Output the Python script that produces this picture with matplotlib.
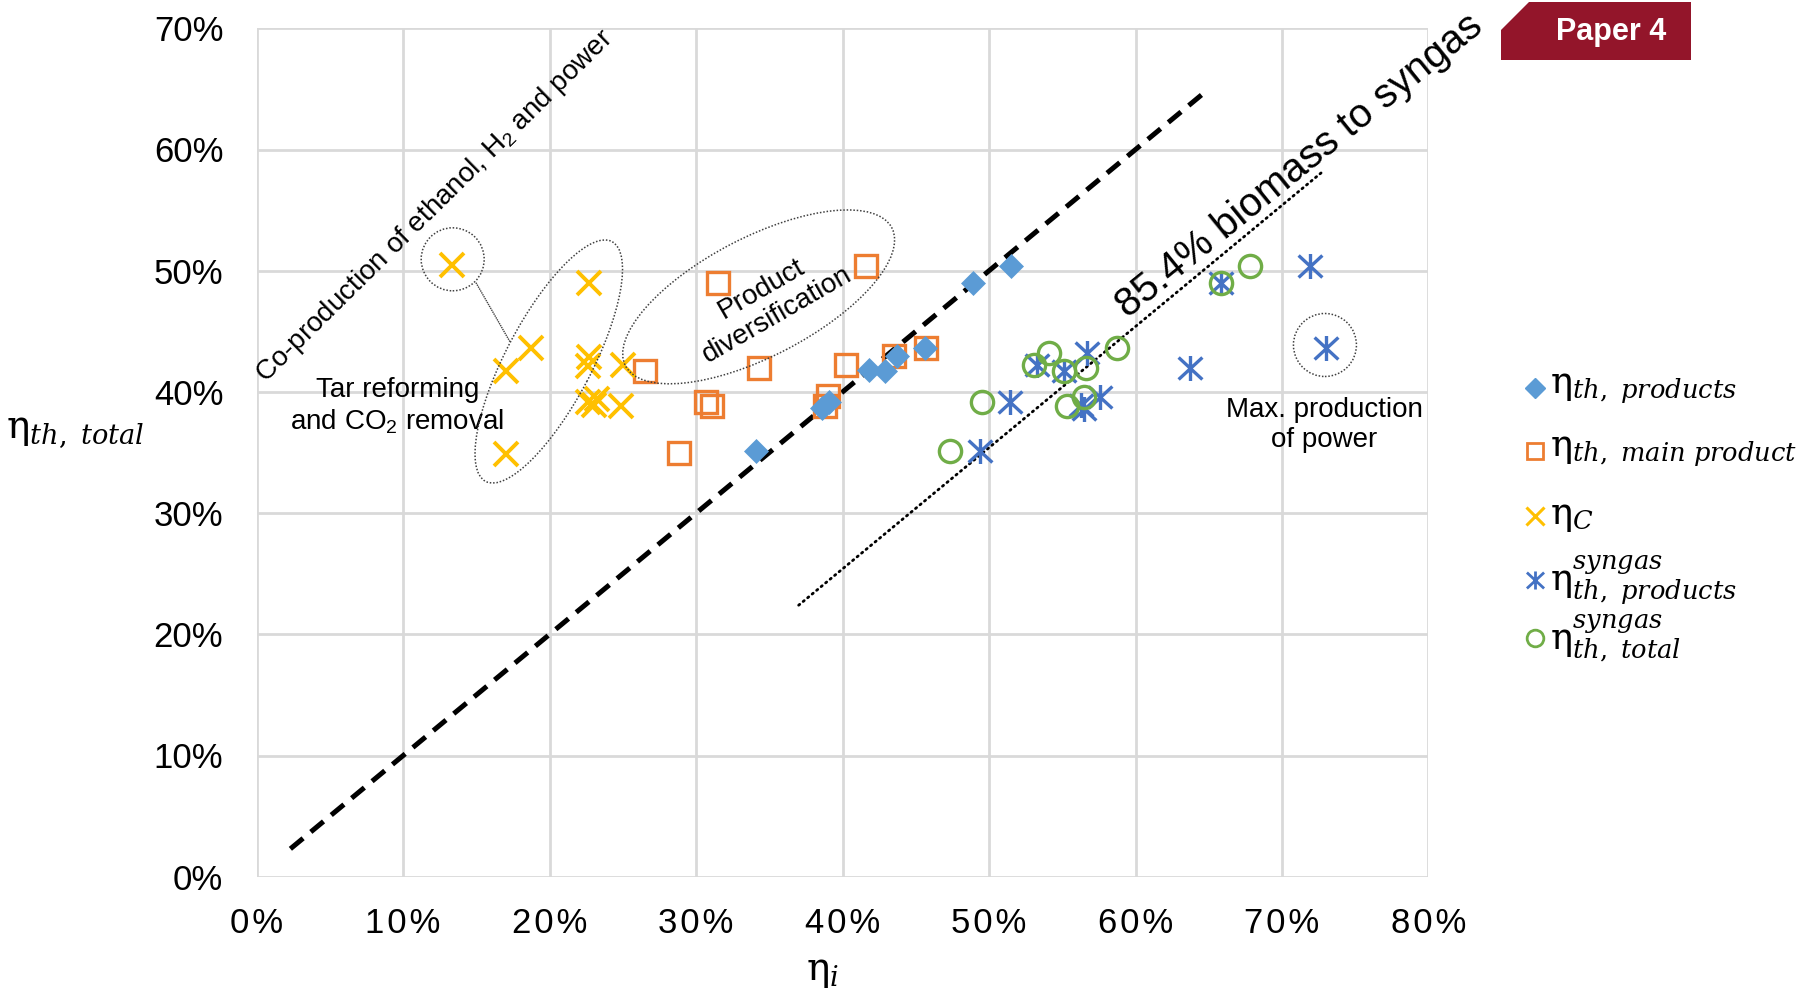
import numpy as np
import matplotlib
matplotlib.use("Agg")
import matplotlib.pyplot as plt
from matplotlib.patches import Ellipse, Polygon
from matplotlib.lines import Line2D
from matplotlib.path import Path
from matplotlib.transforms import IdentityTransform

plt.rcParams['font.family'] = ['Liberation Sans', 'DejaVu Sans']
plt.rcParams['mathtext.fontset'] = 'custom'
plt.rcParams['mathtext.it'] = 'DejaVu Serif:italic'
plt.rcParams['mathtext.rm'] = 'DejaVu Serif'
plt.rcParams['mathtext.sf'] = 'Liberation Sans'

# data (percent)
prod_x = [34.1, 39.1, 38.6, 41.8, 42.9, 43.7, 45.6, 48.9, 51.5]
prod_y = [35.1, 39.2, 38.7, 41.8, 41.7, 43.0, 43.6, 49.0, 50.4]

main_x = [31.5, 41.6, 26.5, 34.3, 40.2, 30.7, 31.1, 28.8, 39.0, 38.8, 43.5, 45.7]
main_y = [49.0, 50.4, 41.7, 42.0, 42.2, 39.2, 38.8, 35.0, 39.7, 38.8, 43.0, 43.6]

carb_x = [13.3, 22.7, 18.7, 17.0, 22.7, 22.6, 25.0, 22.6, 23.2, 23.0, 24.9, 17.0]
carb_y = [50.5, 49.0, 43.6, 41.7, 42.9, 42.1, 42.2, 39.2, 39.4, 38.9, 38.8, 34.9]

syn_prod_x = [71.9, 65.8, 73.0, 63.7, 56.7, 53.3, 55.1, 51.4, 57.6, 56.3, 56.5, 49.4]
syn_prod_y = [50.4, 49.0, 43.6, 42.0, 43.2, 42.2, 41.7, 39.2, 39.6, 38.9, 38.6, 35.1]

syn_tot_x = [49.5, 47.3, 53.1, 54.1, 55.1, 56.6, 58.7, 56.5, 55.3, 65.8, 67.8]
syn_tot_y = [39.2, 35.1, 42.2, 43.2, 41.7, 42.0, 43.6, 39.6, 38.8, 49.0, 50.4]

parity_x = [2.3, 65.0]
syngas_x = [37.0, 72.8]
syngas_offset = 14.6

xticks = [0, 10, 20, 30, 40, 50, 60, 70, 80]
yticks = [0, 10, 20, 30, 40, 50, 60, 70]

C_PROD = '#5B9BD5'
C_MAIN = '#ED7D31'
C_CARB = '#FFC000'
C_SPROD = '#4472C4'
C_STOT = '#70AD47'

# vertical line + X, like the spreadsheet "star" marker
star = Path([(0, -1), (0, 1), (-0.95, -0.88), (0.95, 0.88), (-0.95, 0.88), (0.95, -0.88)],
            [Path.MOVETO, Path.LINETO] * 3)

W, H = 1808, 994
fig = plt.figure(figsize=(W / 100, H / 100), dpi=100)
ax = fig.add_axes([256.7 / W, (H - 876.7) / H, (1428.5 - 256.7) / W, (876.7 - 28.3) / H])

ax.set_xlim(0, 80)
ax.set_ylim(0, 70)
ax.set_xticks(xticks)
ax.set_yticks(yticks)
hs = '\u200a'
ax.set_xticklabels([hs.join(f"{t}%") for t in xticks])
ax.set_yticklabels([f"{t}%" for t in yticks])
ax.tick_params(axis='x', labelsize=25, length=0, pad=22)
ax.tick_params(axis='y', labelsize=25, length=0, pad=24)
for s in ax.spines.values():
    s.set_visible(False)
ax.grid(True, color='#d9d9d9', lw=2)
ax.set_axisbelow(True)

ax.plot(parity_x, parity_x, color='black', lw=3.6, dashes=(3.3, 2.0), zorder=3)
ax.plot(syngas_x, [v - syngas_offset for v in syngas_x], color='black', lw=2.0,
        linestyle=(0, (0.5, 1.6)), dash_capstyle='round', zorder=3)

ax.plot(main_x, main_y, ls='none', marker='s', ms=16, mfc='none', mec=C_MAIN, mew=2.4, zorder=4)
ax.plot(carb_x, carb_y, ls='none', marker='x', ms=17, mec=C_CARB, mew=2.8, zorder=4)
ax.plot(prod_x, prod_y, ls='none', marker='D', ms=12.5, mfc=C_PROD, mec=C_PROD, mew=0.5, zorder=4)
ax.plot(syn_prod_x, syn_prod_y, ls='none', marker=star, ms=18, mec=C_SPROD, mew=2.4, zorder=4)
ax.plot(syn_tot_x, syn_tot_y, ls='none', marker='o', ms=16, mfc='none', mec=C_STOT, mew=2.4, zorder=4)

# annotation text
ax.text(71.2, 58.7, "85.4% biomass to syngas", fontsize=29, rotation=39,
        rotation_mode='anchor', ha='center', va='center', clip_on=False, zorder=5)
ax.text(12.2, 55.3, r"Co-production of ethanol, H$_\mathsf{2}$ and power", fontsize=20,
        rotation=44.6, rotation_mode='anchor', ha='center', va='center', zorder=5)
ax.text(35.0, 47.4, "Product\ndiversification", fontsize=20, rotation=30,
        rotation_mode='anchor', ha='center', va='center', multialignment='center', zorder=5)
ax.text(9.6, 38.8, "Tar reforming\n" + r"and CO$_\mathsf{2}$ removal", fontsize=20,
        ha='center', va='center', multialignment='center', zorder=5)
ax.text(72.9, 37.3, "Max. production\nof power", fontsize=20,
        ha='center', va='center', multialignment='center', zorder=5)

fig.canvas.draw()


def ring(x, y, w, h, ang):
    cx, cy = ax.transData.transform((x, y))
    fig.add_artist(Ellipse((cx, cy), w, h, angle=ang, transform=IdentityTransform(),
                           fill=False, ec='#404040', lw=1.1, ls=(0, (1, 1.2))))


ring(13.38, 50.94, 63, 63, 0)
ring(19.94, 42.51, 271, 86, 62.2)
ring(34.27, 47.84, 300, 119, 27.4)
ring(72.93, 43.87, 63, 63, 0)
ax.plot([14.97, 17.29], [49.01, 44.14], color='#404040', lw=1.0, ls=(0, (1, 0.6)), zorder=3)

# axis labels
lab_kw = dict(fontsize=28, family='DejaVu Serif', ha='center', va='center')
fig.text(75 / W, 1 - 432 / H, r"η$_{th,\ total}$", **lab_kw)
fig.text(823 / W, 1 - 972 / H, r"η$_{i}$", **lab_kw)

# legend
leg_rows = [
    (388, dict(marker='D', ms=10, mfc=C_PROD, mec=C_PROD), r"η$_{th,\ products}$"),
    (451, dict(marker='s', ms=12, mfc='none', mec=C_MAIN, mew=2), r"η$_{th,\ main\ product}$"),
    (516, dict(marker='x', ms=13, mec=C_CARB, mew=2.2), r"η$_{C}$"),
    (580, dict(marker=star, ms=13, mec=C_SPROD, mew=2), r"η$^{syngas}_{th,\ products}$"),
    (638, dict(marker='o', ms=12, mfc='none', mec=C_STOT, mew=2), r"η$^{syngas}_{th,\ total}$"),
]
for ypix, mk, lab in leg_rows:
    fig.add_artist(Line2D([1535 / W], [1 - ypix / H], transform=fig.transFigure, ls='none', **mk))
    fig.text(1550 / W, 1 - ypix / H, lab, fontsize=26.5, family='DejaVu Serif', ha='left', va='center')

# badge
badge = [(1501, 60), (1501, 30), (1529, 2), (1691, 2), (1691, 60)]
fig.add_artist(Polygon([(x / W, 1 - y / H) for x, y in badge], closed=True,
                       transform=fig.transFigure, fc='#93152A', ec='none'))
fig.text(1611 / W, 1 - 32 / H, "Paper 4", color='white', fontsize=22, fontweight='bold',
         ha='center', va='center')

fig.savefig("out.png", dpi=100)
